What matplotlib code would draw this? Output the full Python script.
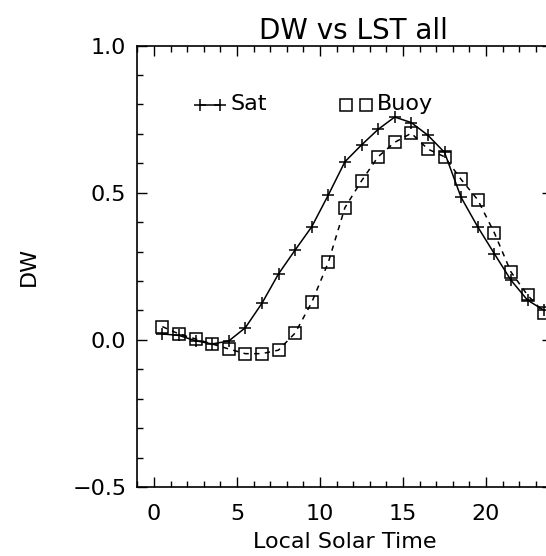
import matplotlib
matplotlib.use("Agg")
import matplotlib.pyplot as plt
from matplotlib.ticker import MultipleLocator

# Data
lst = [0.5, 1.5, 2.5, 3.5, 4.5, 5.5, 6.5, 7.5, 8.5, 9.5, 10.5, 11.5,
       12.5, 13.5, 14.5, 15.5, 16.5, 17.5, 18.5, 19.5, 20.5, 21.5, 22.5, 23.5]
dw_sat = [0.020, 0.015, -0.003, -0.014, -0.004, 0.041, 0.124, 0.224, 0.305, 0.384,
          0.492, 0.605, 0.662, 0.715, 0.757, 0.738, 0.695, 0.637, 0.484, 0.384,
          0.293, 0.203, 0.135, 0.100]
dw_buoy = [0.045, 0.020, 0.003, -0.014, -0.031, -0.047, -0.047, -0.035, 0.023, 0.127,
           0.263, 0.449, 0.540, 0.622, 0.671, 0.702, 0.648, 0.622, 0.545, 0.476,
           0.364, 0.231, 0.152, 0.092]

legend_sat_x = [2.77, 3.98]
legend_buoy_x = [11.55, 12.75]
legend_y = [0.798, 0.798]

title = "DW vs LST all"
xlabel = "Local Solar Time"
ylabel = "DW"

fig = plt.figure(figsize=(5.46, 5.56), dpi=100)
ax = fig.add_axes([137.4 / 546, (556 - 487) / 556, (552.4 - 137.4) / 546, (487 - 45.5) / 556])

ax.plot(lst, dw_sat, color="black", lw=1.1, marker="+", ms=8, mew=1.1)
ax.plot(lst, dw_buoy, color="black", lw=1.1, ls=(0, (3.5, 3.5)), marker="s", ms=8.5,
        mfc="none", mew=1.1)

# legend drawn in data space
ax.plot(legend_sat_x, legend_y, color="black", lw=1.1, marker="+", ms=8, mew=1.1)
ax.text(4.6, 0.80, "Sat", fontsize=16, va="center", ha="left")
ax.plot(legend_buoy_x, legend_y, color="black", lw=1.1, ls="none", marker="s", ms=8.5,
        mfc="none", mew=1.1)
ax.text(13.4, 0.80, "Buoy", fontsize=16, va="center", ha="left")

ax.set_xlim(-1, 24)
ax.set_ylim(-0.5, 1.0)
ax.xaxis.set_major_locator(MultipleLocator(5))
ax.xaxis.set_minor_locator(MultipleLocator(1))
ax.yaxis.set_major_locator(MultipleLocator(0.5))
ax.yaxis.set_minor_locator(MultipleLocator(0.1))
ax.set_xticks([0, 5, 10, 15, 20])
ax.set_xticklabels(["0", "5", "10", "15", "20"])
ax.set_yticks([-0.5, 0.0, 0.5, 1.0])
ax.set_yticklabels(["\u22120.5", "0.0", "0.5", "1.0"])

ax.tick_params(which="both", direction="in", top=True, right=True, width=1.0,
               labelsize=16)
ax.tick_params(which="major", length=7)
ax.tick_params(which="minor", length=4)
ax.tick_params(axis="x", pad=12)
ax.tick_params(axis="y", pad=8)
for s in ax.spines.values():
    s.set_linewidth(1.2)

ax.set_xlabel(xlabel, fontsize=16, labelpad=6)
ax.set_ylabel(ylabel, fontsize=16, labelpad=24)
ax.set_title(title, fontsize=20, pad=3, x=0.52)

fig.savefig("out.png", dpi=100)
